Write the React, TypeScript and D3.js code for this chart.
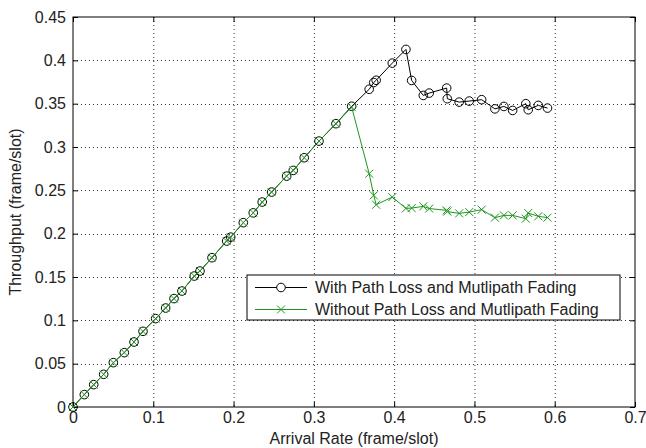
import React, { useEffect, useRef } from "react";
import * as d3 from "d3";

// arrival rate (frame/slot), same for both runs
const arrivalRate = [
    0, 0.0141, 0.0258, 0.0382, 0.0502, 0.0639, 0.076, 0.0872, 0.103, 0.1154,
    0.1258, 0.1357, 0.1511, 0.1582, 0.1731, 0.1914, 0.1964, 0.2121, 0.2245, 0.2357,
    0.2474, 0.2661, 0.2743, 0.288, 0.3064, 0.3275, 0.3471, 0.3689, 0.3746, 0.3776,
    0.3977, 0.4147, 0.4218, 0.4363, 0.4437, 0.4654, 0.4662, 0.481, 0.4935, 0.509,
    0.5255, 0.5367, 0.5476, 0.564, 0.567, 0.5795, 0.591,
];

const withFading = [
    0, 0.0143, 0.0258, 0.0377, 0.0512, 0.0627, 0.075, 0.0873, 0.102, 0.1142,
    0.1251, 0.1338, 0.1511, 0.1569, 0.1723, 0.1915, 0.196, 0.2127, 0.224, 0.2365,
    0.248, 0.2664, 0.273, 0.2876, 0.3068, 0.3269, 0.347, 0.3666, 0.3744, 0.377,
    0.3968, 0.4126, 0.3768, 0.3595, 0.3622, 0.368, 0.3557, 0.3518, 0.353, 0.3546,
    0.344, 0.3468, 0.3422, 0.35, 0.343, 0.348, 0.3449,
];

const withoutFading = [
    0, 0.0143, 0.0258, 0.0377, 0.0512, 0.0627, 0.075, 0.0873, 0.102, 0.1142,
    0.1251, 0.1338, 0.1511, 0.1569, 0.1723, 0.1915, 0.196, 0.2127, 0.224, 0.2365,
    0.248, 0.2664, 0.273, 0.2876, 0.3068, 0.3269, 0.346, 0.2692, 0.2442, 0.2334,
    0.2422, 0.2292, 0.2295, 0.2315, 0.229, 0.2269, 0.2255, 0.2234, 0.2249, 0.2277,
    0.2185, 0.2211, 0.2211, 0.2173, 0.2238, 0.22, 0.2185,
];

const xTicks = [0, 0.1, 0.2, 0.3, 0.4, 0.5, 0.6, 0.7];
const yTicks = [0, 0.05, 0.1, 0.15, 0.2, 0.25, 0.3, 0.35, 0.4, 0.45];
const seriesNames = [
    "With Path Loss and Mutlipath Fading",
    "Without Path Loss and Mutlipath Fading",
];

const green = "#1e961e";
const font = "'Liberation Sans', Arial, sans-serif";

const App = () => {
    const ref = useRef<SVGSVGElement>(null);

    useEffect(() => {
        const svg = d3.select(ref.current);
        svg.selectAll("*").remove();

        const x = d3.scaleLinear().domain([0, 0.7]).range([73, 635]);
        const y = d3.scaleLinear().domain([0, 0.45]).range([407, 17]);

        svg.append("rect").attr("width", 646).attr("height", 448).attr("fill", "#fff");

        // dotted grid
        const grid = svg.append("g")
            .attr("stroke", "#333")
            .attr("stroke-width", 1)
            .attr("stroke-dasharray", "1,3");
        grid.selectAll(".gx")
            .data(xTicks.slice(1, -1))
            .enter()
            .append("line")
            .attr("x1", d => x(d) + 0.5)
            .attr("x2", d => x(d) + 0.5)
            .attr("y1", y(0.45))
            .attr("y2", y(0));
        grid.selectAll(".gy")
            .data(yTicks.slice(1, -1))
            .enter()
            .append("line")
            .attr("y1", d => Math.round(y(d)) + 0.5)
            .attr("y2", d => Math.round(y(d)) + 0.5)
            .attr("x1", x(0))
            .attr("x2", x(0.7));

        // axes, ticks pointing inward
        const style = (g: any) => {
            g.select(".domain").remove();
            g.selectAll("line").attr("stroke", "#000");
            g.selectAll("text")
                .attr("font-family", font)
                .attr("font-size", 16)
                .attr("fill", "#222");
        };
        svg.append("g")
            .attr("transform", `translate(0,${y(0)})`)
            .call(d3.axisBottom(x).tickValues(xTicks).tickSize(-5).tickPadding(5).tickFormat(d3.format("~g")))
            .call(style);
        svg.append("g")
            .attr("transform", `translate(0,${y(0.45)})`)
            .call(d3.axisTop(x).tickValues(xTicks).tickSize(-5).tickFormat(() => ""))
            .call(style);
        svg.append("g")
            .attr("transform", `translate(${x(0)},0)`)
            .call(d3.axisLeft(y).tickValues(yTicks).tickSize(-5).tickPadding(7).tickFormat(d3.format("~g")))
            .call(style);
        svg.append("g")
            .attr("transform", `translate(${x(0.7)},0)`)
            .call(d3.axisRight(y).tickValues(yTicks).tickSize(-5).tickFormat(() => ""))
            .call(style);

        svg.append("rect")
            .attr("x", x(0))
            .attr("y", y(0.45))
            .attr("width", x(0.7) - x(0))
            .attr("height", y(0) - y(0.45))
            .attr("fill", "none")
            .attr("stroke", "#000");

        // axis titles
        svg.append("text")
            .attr("x", (x(0) + x(0.7)) / 2)
            .attr("y", 444)
            .attr("text-anchor", "middle")
            .attr("font-family", font)
            .attr("font-size", 16)
            .attr("fill", "#222")
            .text("Arrival Rate (frame/slot)");
        svg.append("text")
            .attr("transform", `translate(21,${(y(0) + y(0.45)) / 2}) rotate(-90)`)
            .attr("text-anchor", "middle")
            .attr("font-family", font)
            .attr("font-size", 16)
            .attr("fill", "#222")
            .text("Throughput (frame/slot)");

        const line = d3.line<number>()
            .x((d, i) => x(arrivalRate[i]))
            .y(d => y(d));

        const cross = "M-4,-4L4,4M-4,4L4,-4";

        // with fading: black line, circles
        svg.append("path")
            .datum(withFading)
            .attr("d", line)
            .attr("fill", "none")
            .attr("stroke", "#000");
        svg.append("g")
            .selectAll("circle")
            .data(withFading)
            .enter()
            .append("circle")
            .attr("cx", (d, i) => x(arrivalRate[i]))
            .attr("cy", d => y(d))
            .attr("r", 4.3)
            .attr("fill", "none")
            .attr("stroke", "#000");

        // without fading: green line, crosses
        svg.append("path")
            .datum(withoutFading)
            .attr("d", line)
            .attr("fill", "none")
            .attr("stroke", green);
        svg.append("g")
            .selectAll("path")
            .data(withoutFading)
            .enter()
            .append("path")
            .attr("d", cross)
            .attr("transform", (d, i) => `translate(${x(arrivalRate[i])},${y(d)})`)
            .attr("fill", "none")
            .attr("stroke", green);

        // legend
        const lg = svg.append("g").attr("transform", "translate(247,275)");
        lg.append("rect")
            .attr("width", 373)
            .attr("height", 45)
            .attr("fill", "#fff")
            .attr("stroke", "#000");
        seriesNames.forEach((name, i) => {
            const cy = 12.5 + i * 22;
            const col = i === 0 ? "#000" : green;
            lg.append("line")
                .attr("x1", 8).attr("x2", 60)
                .attr("y1", cy).attr("y2", cy)
                .attr("stroke", col);
            if (i === 0) {
                lg.append("circle").attr("cx", 34).attr("cy", cy).attr("r", 4.3)
                    .attr("fill", "#fff").attr("stroke", col);
            } else {
                lg.append("path").attr("d", cross)
                    .attr("transform", `translate(34,${cy})`)
                    .attr("fill", "none").attr("stroke", col);
            }
            lg.append("text")
                .attr("x", 68)
                .attr("y", cy)
                .attr("dy", "0.35em")
                .attr("font-family", font)
                .attr("font-size", 16)
                .attr("fill", "#222")
                .text(name);
        });
    }, []);

    return (
        <svg
            ref={ref}
            width={646}
            height={448}
            style={{ position: "absolute", left: 0, top: 0, display: "block" }}
        />
    );
};

export default App;
